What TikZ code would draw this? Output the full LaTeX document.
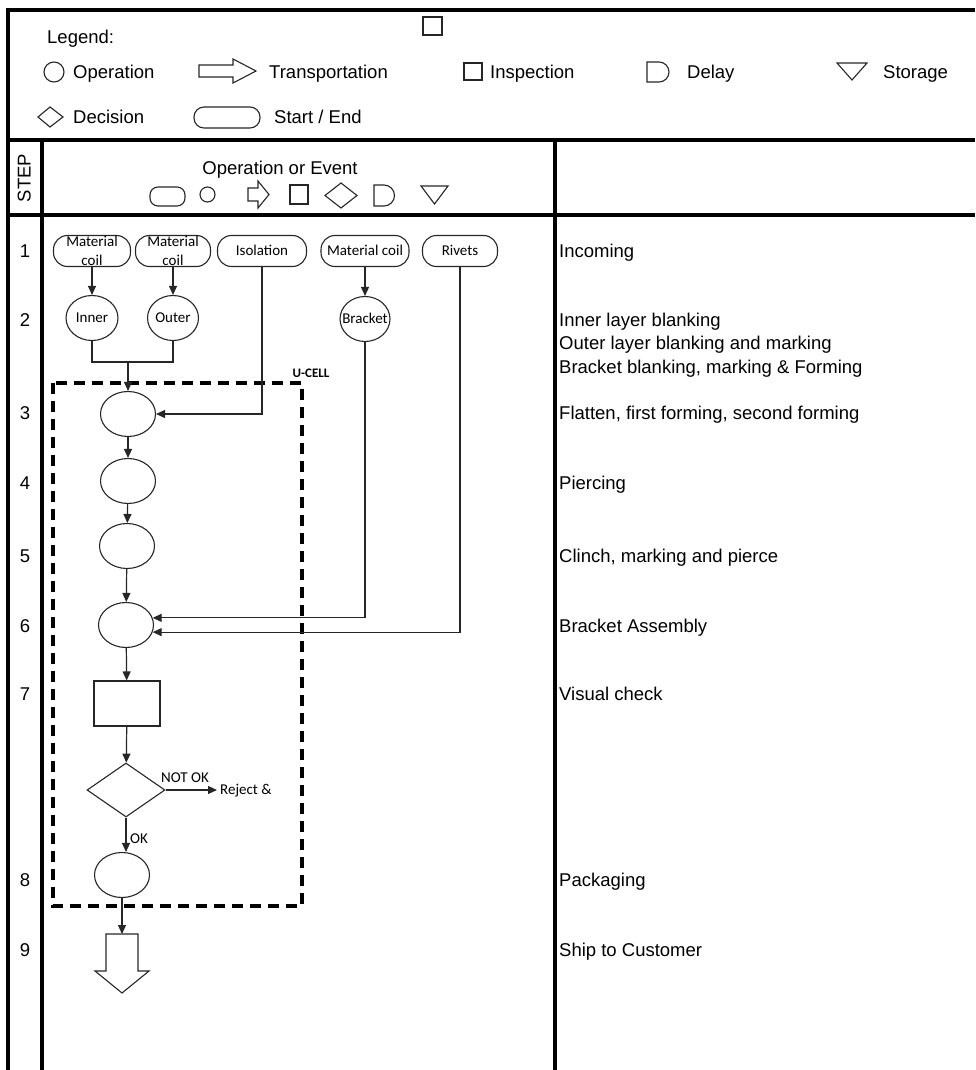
\documentclass[tikz,border=0pt]{standalone}
\usepackage{fontspec}
\setmainfont{Liberation Sans}
\newfontfamily\calib{Carlito}
\usetikzlibrary{arrows.meta, shapes.geometric, positioning}

\newcommand\bigtxt{\fontsize{18.5}{22}\selectfont}
\newcommand\smtxt{\calib\fontsize{15}{19}\selectfont}
\newcommand\twoline[2]{\smash{\begin{tabular}{@{}c@{}}#1\\#2\end{tabular}}}

\tikzset{
  frame/.style={line width=3.2pt, black},
  sym/.style={draw=black!85, line width=1.1pt},
  conn/.style={black!85, line width=1.2pt},
  flow/.style={conn, -{Triangle[length=9pt, width=8pt]}},
  txt/.style={font=\bigtxt, inner sep=0pt, text height=13pt, text depth=0pt},
  lbl/.style={txt, anchor=west},
  sml/.style={font=\smtxt, inner sep=0pt, text height=9.5pt, text depth=0pt},
  startend/.style={sym, rectangle, rounded corners=14pt, minimum height=31pt, sml},
  oper/.style={sym, ellipse, minimum width=55pt, minimum height=45pt, sml},
  insp/.style={sym, rectangle, minimum width=66pt, minimum height=45pt},
  decis/.style={sym, diamond, minimum width=78pt, minimum height=54pt, inner sep=0pt},
  ucell/.style={line width=3.2pt, dash pattern=on 11pt off 7pt},
}

\begin{document}
\begin{tikzpicture}[x=1pt, y=-1pt]
    \useasboundingbox (0,0) rectangle (975,1070);

    % Tabella
    \draw[frame] (8,1070) -- (8,10) -- (975,10);
    \draw[frame] (8,140) -- (975,140);
    \draw[frame] (8,215) -- (975,215);
    \draw[frame] (42,140) -- (42,1070);
    \draw[frame] (555,140) -- (555,1070);

    % Legenda
    \node[lbl] (leg) at (47,37) {Legend:};
    \draw[sym] (423,17) rectangle (442,35);
    \draw[sym] (54,72) circle (10pt);
    \node[lbl] (lop) at (73,72) {Operation};
    \draw[sym] (199,65) -- (233,65) -- (233,59) -- (256,71) -- (233,83) -- (233,77) -- (199,77) -- cycle;
    \node[lbl] (ltr) at (269,72) {Transportation};
    \draw[sym] (464,63) rectangle (482,80);
    \node[lbl] (lin) at (490,72) {Inspection};
    \draw[sym] (647,62) -- (659,62) arc[start angle=90, end angle=-90, radius=10pt] -- (647,82) -- cycle;
    \node[lbl] (lde) at (687,72) {Delay};
    \draw[sym] (837,63) -- (867,63) -- (852,80) -- cycle;
    \node[lbl] (lst) at (883,72) {Storage};
    \draw[sym] (38,117) -- (50,107) -- (63,117) -- (50,127) -- cycle;
    \node[lbl] (ldc) at (73,117) {Decision};
    \draw[sym, rounded corners=10pt] (194,107) rectangle (260,128);
    \node[lbl] (lse) at (274,117) {Start / End};

    % Intestazione
    \node[txt, rotate=90] (step) at (24,178) {STEP};
    \node[txt] (opev) at (280,168) {Operation or Event};
    \draw[sym, rounded corners=8pt] (150,187) rectangle (185,206);
    \draw[sym] (207.5,194.5) circle (7.5pt);
    \draw[sym] (248,188) -- (258,188) -- (258,181) -- (269,194.5) -- (258,208) -- (258,201) -- (248,201) -- cycle;
    \draw[sym] (290,185) rectangle (308,204);
    \draw[sym] (325,195.5) -- (341,183) -- (357,195.5) -- (341,208) -- cycle;
    \draw[sym] (374,185) -- (384,185) arc[start angle=90, end angle=-90, radius=10.5pt] -- (374,206) -- cycle;
    \draw[sym] (421,186) -- (448,186) -- (434.5,204) -- cycle;

    % Passi e descrizioni
    \foreach \n/\y in {1/251, 2/320, 3/413, 4/483, 5/556, 6/626, 7/694, 8/880, 9/950}
        \node[txt] (s\n) at (25,\y) {\n};
    \foreach \y/\t [count=\i] in {251/Incoming, 320/Inner layer blanking,
        343/Outer layer blanking and marking, 367/{Bracket blanking, marking \& Forming},
        413/{Flatten, first forming, second forming}, 483/Piercing,
        556/{Clinch, marking and pierce}, 626/Bracket Assembly, 694/Visual check,
        880/Packaging, 950/Ship to Customer}
        \node[lbl] (d\i) at (559,\y) {\t};

    % Ingressi
    \node[startend, minimum width=77pt] (mc1) at (92,251) {\twoline{Material}{coil}};
    \node[startend, minimum width=75pt] (mc2) at (173,251) {\twoline{Material}{coil}};
    \node[startend, minimum width=89pt] (iso) at (262,251) {Isolation};
    \node[startend, minimum width=88pt] (mcb) at (365,251) {Material coil};
    \node[startend, minimum width=75pt] (riv) at (460,251) {Rivets};

    \node[oper, minimum width=52pt] (inner) at (92,318) {\makebox[0pt]{Inner}};
    \node[oper, minimum width=51pt] (outer) at (173,318) {\makebox[0pt]{Outer}};
    \node[oper, minimum width=50pt] (brk) at (365,319) {\makebox[0pt]{Bracket}};

    % U-cell
    \draw[ucell] (53,383) rectangle (302,906);
    \node[font=\calib\bfseries\fontsize{13}{15}\selectfont, inner sep=0pt] (ulab) at (311,373) {U-CELL};

    % Flusso principale
    \node[oper] (op3) at (128,414) {};
    \node[oper] (op4) at (128,481) {};
    \node[oper] (op5) at (127,546) {};
    \node[oper] (op6) at (126,625) {};
    \node[insp] (chk) at (127,703.5) {};
    \node[decis] (dec) at (126,790) {};
    \node[oper] (op8) at (122,875) {};
    \coordinate (join) at (128,362);
    \coordinate (ship) at (122,934);
    \node[sml] (nok) at (185,778) {NOT OK};
    \node[sml, anchor=west] (rej) at (220,790) {Reject \&};
    \node[sml] (okl) at (139,839) {OK};

    \draw[flow] (mc1) -- (inner);
    \draw[flow] (mc2) -- (outer);
    \draw[flow] (mcb) -- (brk);
    \draw[conn] (inner.south) |- (join) -| (outer.south);
    \draw[flow] (join) -- (op3);
    \draw[flow] (iso) |- (op3);
    \draw[flow] (brk) |- (op6.15);
    \draw[flow] (riv) |- (op6.-15);
    \draw[flow] (op3) -- (op4);
    \draw[flow] (op4) -- (op5);
    \draw[flow] (op5) -- (op6);
    \draw[flow] (op6) -- (chk);
    \draw[flow] (chk) -- (dec);
    \draw[flow, shorten >=3pt] (dec) -- (rej);
    \draw[flow] (dec) -- (dec |- op8.north);
    \draw[flow] (op8) -- (ship);

    % Spedizione
    \draw[sym] (106,934) -- (138,934) -- (138,971) -- (149,971) -- (122,993) -- (95,971) -- (106,971) -- cycle;
\end{tikzpicture}
\end{document}
